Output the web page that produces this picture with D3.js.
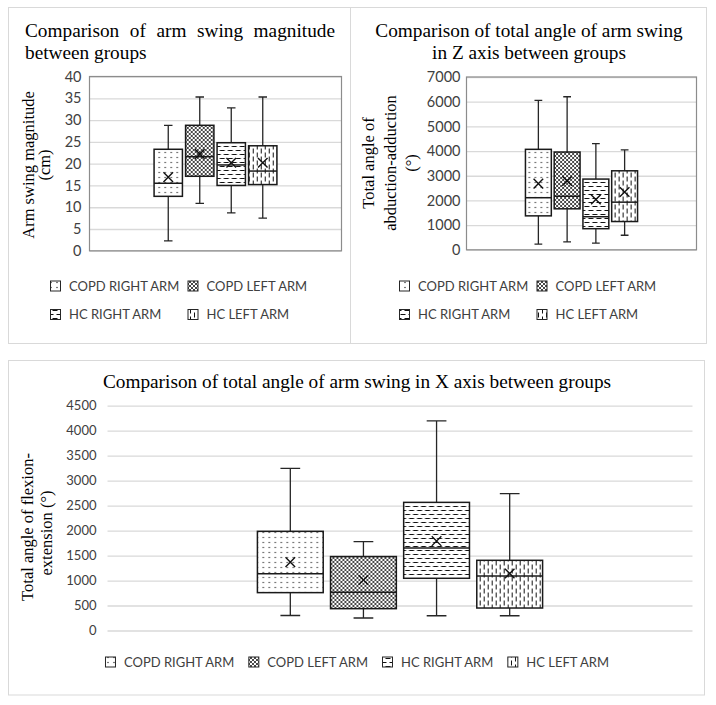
<!DOCTYPE html>
<html lang="en">
<head>
<meta charset="utf-8">
<title>Arm swing box plots</title>
<script src="https://d3js.org/d3.v7.min.js"></script>
<style>
  body { margin: 0; background: #fff; }
</style>
</head>
<body>
<div id="chart"></div>
<script>
// ---- data ----
const series = ["COPD RIGHT ARM", "COPD LEFT ARM", "HC RIGHT ARM", "HC LEFT ARM"];

// arm swing magnitude (cm)
const magTicks  = [0, 5, 10, 15, 20, 25, 30, 35, 40];
const magLow    = [2.3, 10.9, 8.7, 7.5];
const magQ1     = [12.5, 17.1, 15.0, 15.2];
const magMedian = [15.5, 21.6, 19.7, 18.3];
const magQ3     = [23.3, 28.8, 24.8, 24.1];
const magHigh   = [28.8, 35.3, 32.8, 35.3];
const magMean   = [16.9, 22.2, 20.2, 20.2];

// total angle in Z axis (abduction-adduction)
const zTicks  = [0, 1000, 2000, 3000, 4000, 5000, 6000, 7000];
const zLow    = [230, 320, 270, 590];
const zQ1     = [1375, 1660, 855, 1145];
const zMedian = [2110, 2170, 1340, 1930];
const zQ3     = [4070, 3960, 2865, 3200];
const zHigh   = [6050, 6200, 4300, 4050];
const zMean   = [2680, 2785, 2035, 2340];

// total angle in X axis (flexion-extension)
const xTicks  = [0, 500, 1000, 1500, 2000, 2500, 3000, 3500, 4000, 4500];
const xLow    = [300, 250, 295, 295];
const xQ1     = [758, 437, 1045, 450];
const xMedian = [1135, 765, 1650, 1090];
const xQ3     = [1985, 1480, 2565, 1405];
const xHigh   = [3245, 1780, 4195, 2740];
const xMean   = [1368, 1010, 1790, 1140];

// ---- drawing ----
const svg = d3.select("#chart").append("svg")
    .attr("width", 716)
    .attr("height", 705);

const serif = "'Liberation Serif', 'Times New Roman', serif";
const sans = "Lato, 'Open Sans', sans-serif";

// fill patterns, one per series
const defs = svg.append("defs");
function makePattern(id, w, h, draw) {
    const p = defs.append("pattern")
        .attr("id", id)
        .attr("patternUnits", "userSpaceOnUse")
        .attr("width", w)
        .attr("height", h);
    p.append("rect").attr("width", w).attr("height", h).attr("fill", "#fff");
    draw(p);
}
makePattern("pat0", 6, 5, p => p.append("rect")
    .attr("x", 2.4).attr("y", 1.9).attr("width", 1.2).attr("height", 1.2).attr("fill", "#222"));
makePattern("pat1", 4, 4, p => p.append("path")
    .attr("d", "M0,0L4,4M4,0L0,4")
    .attr("stroke", "#333").attr("stroke-width", 0.9));
makePattern("pat2", 8, 8, p => p.append("path")
    .attr("d", "M0.5,2.5H5.5M4.5,6.5H8M0,6.5H1.5")
    .attr("stroke", "#111").attr("stroke-width", 1));
makePattern("pat3", 8, 8, p => p.append("path")
    .attr("d", "M2.5,0.5V5.5M6.5,4.5V8M6.5,0V1.5")
    .attr("stroke", "#111").attr("stroke-width", 1));
const fillOf = i => `url(#pat${i})`;

// panel borders
[[8.5, 7.5, 342, 336], [350.5, 7.5, 356, 336], [8.5, 360.5, 696, 334.5]].forEach(b => {
    svg.append("rect")
        .attr("x", b[0]).attr("y", b[1]).attr("width", b[2]).attr("height", b[3])
        .attr("fill", "none")
        .attr("stroke", "#d9d9d9")
        .attr("stroke-width", 1);
});

function drawBoxChart(o) {
    const span = o.right - o.left;
    const y = d3.scaleLinear()
        .domain([o.ticks[0], o.ticks[o.ticks.length - 1]])
        .range([o.bottom, o.top]);
    const x = d3.scaleBand()
        .domain(series)
        .range([o.left + span / 4, o.right - span / 4])
        .paddingInner(0.1)
        .paddingOuter(0.05);

    // gridlines
    svg.append("g")
        .attr("transform", `translate(${o.left},0)`)
        .call(d3.axisLeft(y).tickValues(o.ticks).tickSize(-span).tickFormat(""))
        .call(g => g.select(".domain").remove())
        .call(g => g.selectAll("line").attr("stroke", "#d9d9d9").attr("stroke-width", 1.3));

    // tick labels
    svg.append("g")
        .attr("transform", `translate(${o.left - o.tickGap},0)`)
        .call(d3.axisLeft(y).tickValues(o.ticks).tickSize(0).tickPadding(0).tickFormat(d3.format("d")))
        .attr("font-family", sans)
        .attr("font-size", o.tickFont)
        .call(g => g.select(".domain").remove())
        .call(g => g.selectAll("text").attr("fill", "#404040"));

    if (o.framed) {
        svg.append("rect")
            .attr("x", o.left).attr("y", o.top)
            .attr("width", span).attr("height", o.bottom - o.top)
            .attr("fill", "none")
            .attr("stroke", "#8c8c8c")
            .attr("stroke-width", 1.2);
    }

    const rows = series.map((s, i) => ({
        s: s, i: i,
        lo: o.low[i], q1: o.q1[i], med: o.median[i], q3: o.q3[i], hi: o.high[i], mean: o.mean[i]
    }));
    const bw = x.bandwidth();
    const cap = bw * 0.3;

    const box = svg.append("g").selectAll("g")
        .data(rows)
        .join("g")
        .attr("transform", d => `translate(${x(d.s) + bw / 2},0)`);

    // whiskers
    box.append("path")
        .attr("d", d => `M0,${y(d.hi)}V${y(d.q3)}M0,${y(d.q1)}V${y(d.lo)}` +
            `M${-cap / 2},${y(d.hi)}H${cap / 2}M${-cap / 2},${y(d.lo)}H${cap / 2}`)
        .attr("stroke", "#262626")
        .attr("stroke-width", 1.3)
        .attr("fill", "none");

    box.append("rect")
        .attr("x", -bw / 2)
        .attr("y", d => y(d.q3))
        .attr("width", bw)
        .attr("height", d => y(d.q1) - y(d.q3))
        .attr("fill", d => fillOf(d.i))
        .attr("stroke", "#1a1a1a")
        .attr("stroke-width", 1.5);

    box.append("line")
        .attr("x1", -bw / 2).attr("x2", bw / 2)
        .attr("y1", d => y(d.med)).attr("y2", d => y(d.med))
        .attr("stroke", "#1a1a1a")
        .attr("stroke-width", 1.5);

    // mean marker
    const m = 4.8;
    box.append("path")
        .attr("d", d => `M${-m},${y(d.mean) - m}L${m},${y(d.mean) + m}M${m},${y(d.mean) - m}L${-m},${y(d.mean) + m}`)
        .attr("stroke", "#111")
        .attr("stroke-width", 1.4);
}

function titleText(x, y, str, anchor) {
    return svg.append("text")
        .attr("x", x).attr("y", y)
        .attr("text-anchor", anchor)
        .attr("font-family", serif)
        .attr("font-size", 19.3)
        .attr("fill", "#000")
        .text(str);
}

function axisTitle(lines) {
    lines.forEach(l => {
        svg.append("text")
            .attr("transform", `translate(${l[0]},${l[1]}) rotate(-90)`)
            .attr("text-anchor", "middle")
            .attr("dominant-baseline", "central")
            .attr("font-family", serif)
            .attr("font-size", 16.5)
            .attr("fill", "#000")
            .text(l[2]);
    });
}

function legendItem(g, x, y, i) {
    g.append("rect")
        .attr("x", x + 0.5).attr("y", y - 5)
        .attr("width", 10).attr("height", 10)
        .attr("fill", fillOf(i))
        .attr("stroke", "#262626")
        .attr("stroke-width", 1);
    return g.append("text")
        .attr("x", x + 19).attr("y", y)
        .attr("dy", "0.36em")
        .attr("font-family", sans)
        .attr("font-size", 13)
        .attr("fill", "#404040")
        .text(series[i]);
}

// ---- panel 1: arm swing magnitude ----
const t1 = titleText(25, 37, "Comparison of arm swing magnitude", "start");
const t1len = t1.node().getComputedTextLength();
t1.attr("word-spacing", (310 - t1len) / 4);
titleText(25, 59, "between groups", "start");
axisTitle([[28.5, 165, "Arm swing magnitude"], [44, 165, "(cm)"]]);

drawBoxChart({
    left: 89.5, right: 341.5, top: 76.5, bottom: 250.8,
    ticks: magTicks, low: magLow, q1: magQ1, median: magMedian, q3: magQ3, high: magHigh, mean: magMean,
    framed: true, tickFont: 14.5, tickGap: 8
});

const leg1 = svg.append("g");
legendItem(leg1, 50, 286, 0);
legendItem(leg1, 187.5, 286, 1);
legendItem(leg1, 50, 314.5, 2);
legendItem(leg1, 187.5, 314.5, 3);

// ---- panel 2: Z axis ----
titleText(529, 37, "Comparison of total angle of arm swing", "middle");
titleText(529, 59, "in Z axis between groups", "middle");
axisTitle([[368.5, 163, "Total angle of"], [390, 163, "abduction-adduction"], [411.5, 163, "(°)"]]);

drawBoxChart({
    left: 466.5, right: 696.5, top: 77, bottom: 249.8,
    ticks: zTicks, low: zLow, q1: zQ1, median: zMedian, q3: zQ3, high: zHigh, mean: zMean,
    framed: true, tickFont: 14.5, tickGap: 6
});

const leg2 = svg.append("g");
legendItem(leg2, 399, 286, 0);
legendItem(leg2, 536.5, 286, 1);
legendItem(leg2, 399, 314.5, 2);
legendItem(leg2, 536.5, 314.5, 3);

// ---- panel 3: X axis ----
titleText(357, 388, "Comparison of total angle of arm swing in X axis between groups", "middle");
axisTitle([[27, 527, "Total angle of flexion-"], [46, 533, "extension  (°)"]]);

drawBoxChart({
    left: 107.5, right: 692.5, top: 405.7, bottom: 630.5,
    ticks: xTicks, low: xLow, q1: xQ1, median: xMedian, q3: xQ3, high: xHigh, mean: xMean,
    framed: false, tickFont: 13, tickGap: 11
});

// bottom legend: one row, centred on the panel
const leg3 = svg.append("g");
let lx = 0;
series.forEach((s, i) => {
    const t = legendItem(leg3, lx, 662, i);
    lx += 19 + t.node().getComputedTextLength() + 14;
});
const rowW = lx - 14;
leg3.attr("transform", `translate(${357 - rowW / 2},0)`);
</script>
</body>
</html>
